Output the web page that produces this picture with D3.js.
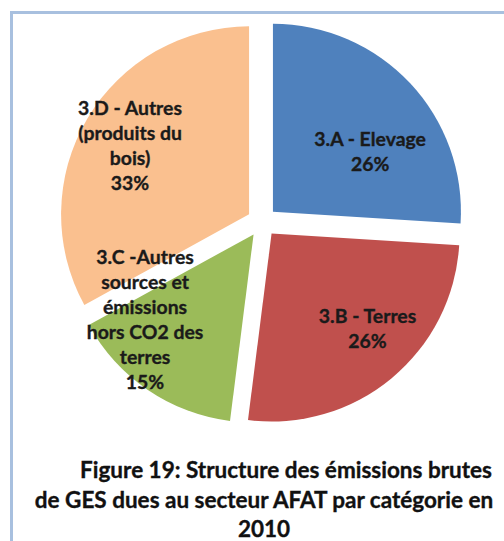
<!DOCTYPE html>
<html>
<head>
<meta charset="utf-8">
<script src="https://cdn.jsdelivr.net/npm/d3@7"></script>
<style>
  html, body { margin: 0; padding: 0; background: #fff; }
  svg { display: block; }
  text { font-family: Lato, "Open Sans", sans-serif; font-weight: bold; }
</style>
</head>
<body>
<div id="chart"></div>
<script>
// categories, clockwise from 12 o'clock
var categories = ["3.A - Elevage", "3.B - Terres",
                  "3.C -Autres sources et émissions hors CO2 des terres",
                  "3.D - Autres (produits du bois)"];
var values = [26, 26, 15, 33];
// label lines as they wrap in the picture
var labelLines = [
    ["3.A - Elevage", "26%"],
    ["3.B - Terres", "26%"],
    ["3.C -Autres", "sources et", "émissions", "hors CO2 des", "terres", "15%"],
    ["3.D - Autres", "(produits du", "bois)", "33%"]
];
var colors = ["#4f81bd", "#c0504d", "#9bbb59", "#fac08f"];
var titleLines = ["Figure 19: Structure des émissions brutes",
                  "de GES dues au secteur AFAT par catégorie en",
                  "2010"];

var width = 504, height = 541;
var cx = 262, cy = 222, radius = 188, explode = 15;

// where each label sits: angle (deg, clockwise from top) and distance from slice apex
var labelPlace = [[61.1, 111], [136.8, 140.2], [229.6, 142.5], [297.3, 134]];

var svg = d3.select("#chart").append("svg")
    .attr("width", width)
    .attr("height", height);

// page frame
svg.append("path")
    .attr("d", "M11.5," + height + "V12.5H" + width)
    .attr("fill", "none")
    .attr("stroke", "#a8c0df")
    .attr("stroke-width", 3);

var pie = d3.pie().sort(null).value(function(d) { return d; });
var arc = d3.arc().innerRadius(0).outerRadius(radius);
var arcs = pie(values);

var g = svg.append("g").attr("transform", "translate(" + cx + "," + cy + ")");

function shift(d) {
    var a = (d.startAngle + d.endAngle) / 2;
    return [Math.sin(a) * explode, -Math.cos(a) * explode];
}

g.selectAll("path.slice")
    .data(arcs)
    .enter()
    .append("path")
    .attr("class", "slice")
    .attr("transform", function(d) { return "translate(" + shift(d) + ")"; })
    .attr("d", arc)
    .attr("fill", function(d, i) { return colors[i]; });

// labels go on top of every slice
var lineH = 25;
g.selectAll("text.label")
    .data(arcs)
    .enter()
    .append("text")
    .attr("class", "label")
    .attr("text-anchor", "middle")
    .attr("font-size", "19.4px")
    .attr("fill", "#1a1a1a")
    .attr("stroke", "#1a1a1a")
    .attr("stroke-width", 0.35)
    .each(function(d, i) {
        var o = shift(d);
        var a = labelPlace[i][0] * Math.PI / 180, r = labelPlace[i][1];
        var lx = o[0] + Math.sin(a) * r, ly = o[1] - Math.cos(a) * r;
        var lines = labelLines[i];
        var t = d3.select(this);
        lines.forEach(function(s, j) {
            t.append("tspan")
                .attr("x", lx)
                .attr("y", ly + (j - (lines.length - 1) / 2) * lineH)
                .text(s);
        });
    });

// caption below the chart (first line indented, paragraph centred)
var titleX = [286, 264, 264], titleY = [478, 508, 537];
svg.append("g").selectAll("text")
    .data(titleLines)
    .enter()
    .append("text")
    .attr("x", function(d, i) { return titleX[i]; })
    .attr("y", function(d, i) { return titleY[i]; })
    .attr("text-anchor", "middle")
    .attr("font-size", "22.5px")
    .attr("fill", "#111")
    .attr("stroke", "#111")
    .attr("stroke-width", 0.35)
    .text(function(d) { return d; });
</script>
</body>
</html>
